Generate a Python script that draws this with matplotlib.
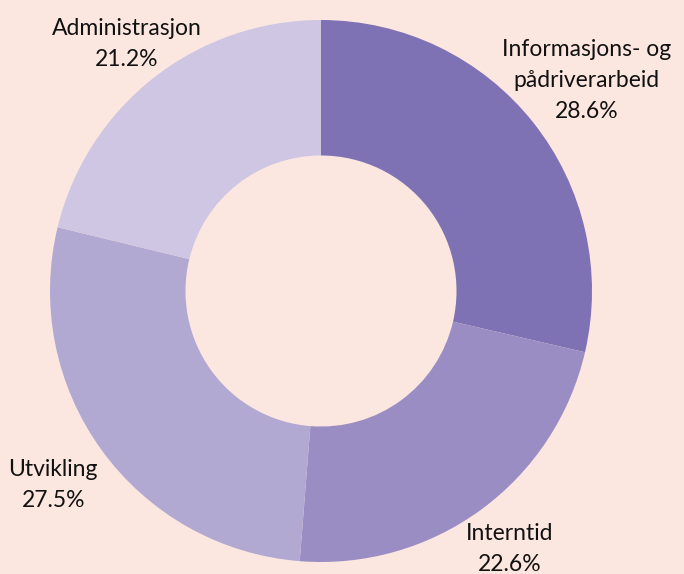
import numpy as np
import matplotlib.pyplot as plt

# data
labels = ["Informasjons- og\npådriverarbeid", "Interntid", "Utvikling", "Administrasjon"]
shares = [28.6, 22.6, 27.5, 21.2]
colors = ["#7F72B4", "#9A8DC4", "#B2A9D2", "#CEC6E2"]
label_dist = [1.25, 1.18, 1.22, 1.16]

bg = "#FCE7E0"
plt.rcParams['font.family'] = ['Lato', 'DejaVu Sans']

fig = plt.figure(figsize=(6.84, 5.74), dpi=100, facecolor=bg)
ax = fig.add_axes([0, 0, 1, 1])
ax.set_facecolor(bg)

wedges, _ = ax.pie(shares, colors=colors, startangle=90, counterclock=False,
                   radius=1.0, wedgeprops=dict(width=0.5, edgecolor="none"))

for w, lab, val, d in zip(wedges, labels, shares, label_dist):
    ang = np.deg2rad((w.theta1 + w.theta2) / 2)
    ax.text(d * np.cos(ang), d * np.sin(ang), f"{lab}\n{val:.1f}%",
            ha="center", va="center", fontsize=16.5, color="#111111",
            linespacing=1.6)

# pixel-matched limits (1 unit = 271 px, centre at 321, 291 from top)
ax.set_aspect("auto")
ax.set_xlim(-321 / 271, 363 / 271)
ax.set_ylim(-283 / 271, 291 / 271)
ax.axis("off")

fig.savefig("out.png", dpi=100, facecolor=bg)
